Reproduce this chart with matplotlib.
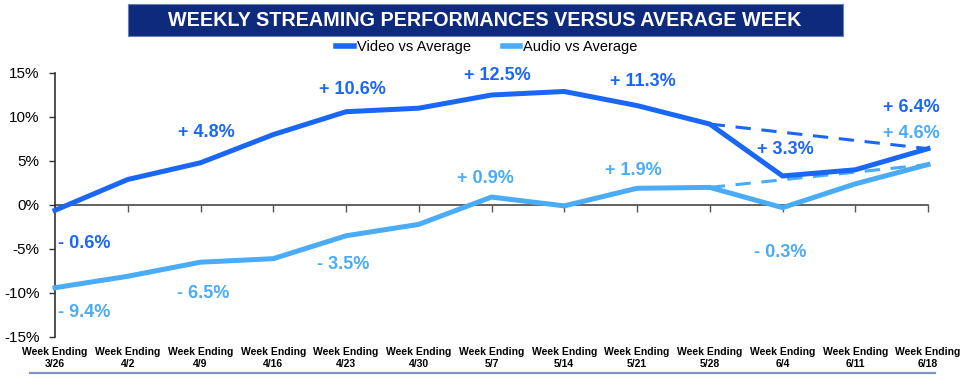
import matplotlib
matplotlib.use("Agg")
import matplotlib.pyplot as plt
from matplotlib import font_manager
from matplotlib.lines import Line2D
from matplotlib.patches import Rectangle

weeks = ["3/26", "4/2", "4/9", "4/16", "4/23", "4/30", "5/7",
         "5/14", "5/21", "5/28", "6/4", "6/11", "6/18"]
video = [-0.6, 2.9, 4.8, 8.0, 10.6, 11.0, 12.5, 12.9, 11.3, 9.2, 3.3, 4.0, 6.4]
audio = [-9.4, -8.1, -6.5, -6.1, -3.5, -2.2, 0.9, -0.1, 1.9, 2.0, -0.3, 2.4, 4.6]
trend_idx = [9, 12]
video_labels = {0: "- 0.6%", 2: "+ 4.8%", 4: "+ 10.6%", 6: "+ 12.5%",
                8: "+ 11.3%", 10: "+ 3.3%", 12: "+ 6.4%"}
audio_labels = {0: "- 9.4%", 2: "- 6.5%", 4: "- 3.5%", 6: "+ 0.9%",
                8: "+ 1.9%", 10: "- 0.3%", 12: "+ 4.6%"}
yticks = [-15, -10, -5, 0, 5, 10, 15]

names = {f.name for f in font_manager.fontManager.ttflist}
base = "Liberation Sans" if "Liberation Sans" in names else "DejaVu Sans"
plt.rcParams['font.family'] = [base, 'DejaVu Sans']

VCOL = "#1a66f5"
ACOL = "#4aabf7"
NAVY = "#0d2a7d"

fig = plt.figure(figsize=(9.77, 3.91), dpi=100)
ax = fig.add_axes([55/977, 1-337/391, (928-55)/977, (337-73)/391])

x = list(range(len(weeks)))
ax.plot(x, video, color=VCOL, lw=3.6, solid_joinstyle='miter', clip_on=False, zorder=4)
ax.plot(x, audio, color=ACOL, lw=3.6, solid_joinstyle='miter', clip_on=False, zorder=3)
ax.plot(trend_idx, [video[i] for i in trend_idx], color=VCOL, lw=2.2,
        dashes=(5, 3.5), clip_on=False, zorder=4)
ax.plot(trend_idx, [audio[i] for i in trend_idx], color=ACOL, lw=2.2,
        dashes=(5, 3.5), clip_on=False, zorder=3)

voff = {0: (29, -33), 2: (6, 30), 4: (6, 22), 6: (6, 20), 8: (6, 24),
        10: (3, 26), 12: (-17, 41)}
aoff = {0: (29, -25), 2: (3, -31), 4: (-3, -29), 6: (-6, 19), 8: (-4, 18),
        10: (-2, -45), 12: (-17, 31)}
for i, t in video_labels.items():
    ax.annotate(t, (x[i], video[i]), xytext=voff[i], textcoords='offset pixels',
                ha='center', va='center', fontsize=13, fontweight='bold',
                color=VCOL, annotation_clip=False)
for i, t in audio_labels.items():
    ax.annotate(t, (x[i], audio[i]), xytext=aoff[i], textcoords='offset pixels',
                ha='center', va='center', fontsize=13, fontweight='bold',
                color=ACOL, annotation_clip=False)

ax.set_xlim(0, len(weeks) - 1)
ax.set_ylim(-15, 15)
ax.set_yticks(yticks)
ax.set_yticklabels([f"{v}%" for v in yticks], fontsize=11)
ax.tick_params(axis='y', length=4, width=1, color='#333333', pad=7)
ax.set_xticks(x)
ax.set_xticklabels([f"Week Ending\n{w}" for w in weeks], fontsize=7.5,
                   fontweight='bold', linespacing=1.25)
ax.tick_params(axis='x', length=0, pad=7)
for s in ['top', 'right', 'bottom']:
    ax.spines[s].set_visible(False)
ax.spines['left'].set_color('#333333')
ax.spines['left'].set_linewidth(1.2)

sec = ax.secondary_xaxis(0, transform=ax.transData)
sec.set_xticks(x)
sec.set_xticklabels([])
sec.tick_params(length=5, width=1, color='#555555', direction='out')
sec.spines['bottom'].set_color('#555555')
sec.spines['bottom'].set_linewidth(1.3)

# title box
fig.add_artist(Rectangle((128/977, 1-36/391), (843-128)/977, 32/391,
                         transform=fig.transFigure, facecolor=NAVY,
                         edgecolor='#6b7fb5', lw=0.8))
fig.text(485/977, 1-20/391, "WEEKLY STREAMING PERFORMANCES VERSUS AVERAGE WEEK",
         ha='center', va='center', color='white', fontsize=14.2,
         fontweight='bold')

handles = [Line2D([], [], color=VCOL, lw=4), Line2D([], [], color=ACOL, lw=4)]
fig.legend(handles, ["Video vs Average", "Audio vs Average"], loc='center',
           bbox_to_anchor=(487/977, 1-47/391), ncol=2, frameon=False,
           handlelength=1.2, handletextpad=0.2, columnspacing=2.2,
           prop={'size': 10.5})

fig.add_artist(Line2D([30/977, 935/977], [1-373/391, 1-373/391],
                      transform=fig.transFigure, color='#8193c4', lw=1.6))

fig.savefig("out.png", dpi=100)
